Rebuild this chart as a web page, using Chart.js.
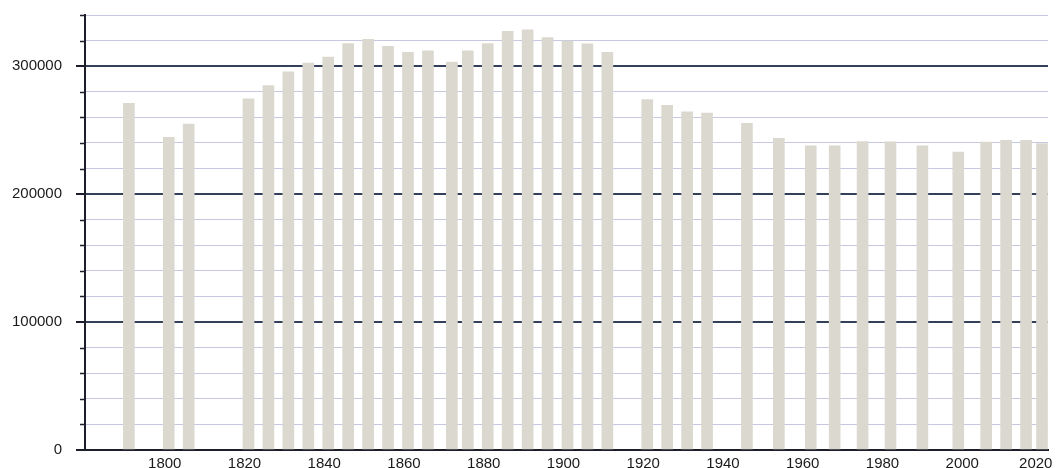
<!DOCTYPE html>
<html>
<head>
<meta charset="utf-8">
<script src="https://cdn.jsdelivr.net/npm/chart.js@4"></script>
<style>
  html, body { margin: 0; padding: 0; background: #fff; }
  #wrap { width: 1057px; height: 468px; }
</style>
</head>
<body>
<div id="wrap"><canvas id="chart"></canvas></div>
<script>
// census years and population
const years = [1791, 1801, 1806, 1821, 1826, 1831, 1836, 1841, 1846, 1851,
  1856, 1861, 1866, 1872, 1876, 1881, 1886, 1891, 1896, 1901,
  1906, 1911, 1921, 1926, 1931, 1936, 1946, 1954, 1962, 1968,
  1975, 1982, 1990, 1999, 2006, 2011, 2016, 2020];
const population = [271000, 244300, 254700, 274400, 284800, 295600, 302400, 307100, 317600, 321000,
  315500, 310800, 311900, 303200, 311900, 317600, 327300, 328400, 322300, 319700,
  317400, 310800, 273800, 269400, 264400, 263400, 255300, 243700, 237700, 237700,
  241100, 240800, 237700, 232900, 240600, 242100, 242100, 239500];
const xTicks = [1800, 1820, 1840, 1860, 1880, 1900, 1920, 1940, 1960, 1980, 2000, 2020];
const yLabels = [0, 100000, 200000, 300000];

const isMajor = v => yLabels.includes(v);

// short ticks for the minor grid lines
const minorTicks = {
  id: 'minorTicks',
  afterDraw(chart) {
    const y = chart.scales.y;
    const ctx = chart.ctx;
    const left = chart.chartArea.left;
    ctx.save();
    ctx.strokeStyle = '#1c1f2a';
    ctx.lineWidth = 1.5;
    y.ticks.forEach(t => {
      if (isMajor(t.value)) return;
      const py = Math.round(y.getPixelForValue(t.value)) + 0.5;
      ctx.beginPath();
      ctx.moveTo(left - 5, py);
      ctx.lineTo(left, py);
      ctx.stroke();
    });
    ctx.restore();
  }
};

const ctx = document.getElementById('chart').getContext('2d');
new Chart(ctx, {
  type: 'bar',
  data: {
    datasets: [{
      data: years.map((yr, i) => ({ x: yr, y: population[i] })),
      backgroundColor: '#dbd8cf',
      borderWidth: 0,
      barThickness: 11
    }]
  },
  options: {
    responsive: true,
    maintainAspectRatio: false,
    animation: false,
    layout: { padding: { top: 15, right: 9, left: 0, bottom: 0 } },
    plugins: { legend: { display: false }, tooltip: { enabled: false } },
    scales: {
      x: {
        type: 'linear',
        min: 1780,
        max: 2021.5,
        offset: false,
        grid: { display: false, offset: false },
        border: { display: true, color: '#1c1f2a', width: 2 },
        ticks: {
          padding: -3,
          color: '#1a1a1a',
          font: { family: '"Liberation Sans", Arial, Helvetica, sans-serif', size: 15 },
          maxRotation: 0,
          autoSkip: false,
          // last label pushed a little left so it stays inside the canvas
          callback: v => v === 2020 ? '2020   ' : String(v)
        },
        afterBuildTicks: scale => { scale.ticks = xTicks.map(v => ({ value: v })); },
        afterFit: scale => { scale.height = 18; scale.paddingLeft = 0; scale.paddingRight = 0; }
      },
      y: {
        min: 0,
        max: 340000,
        grid: {
          color: c => isMajor(c.tick.value) ? '#34405a' : '#c6c8e2',
          lineWidth: c => isMajor(c.tick.value) ? 2 : 1,
          tickColor: c => isMajor(c.tick.value) ? '#1c1f2a' : 'rgba(0,0,0,0)',
          tickLength: 9
        },
        border: { display: true, color: '#1c1f2a', width: 2 },
        ticks: {
          stepSize: 20000,
          padding: 14,
          color: '#1a1a1a',
          font: { family: '"Liberation Sans", Arial, Helvetica, sans-serif', size: 15 },
          autoSkip: false,
          callback: v => isMajor(v) ? String(v) : ''
        },
        afterFit: scale => { scale.width = 85; scale.paddingTop = 0; scale.paddingBottom = 0; }
      }
    }
  },
  plugins: [minorTicks]
});
</script>
</body>
</html>
